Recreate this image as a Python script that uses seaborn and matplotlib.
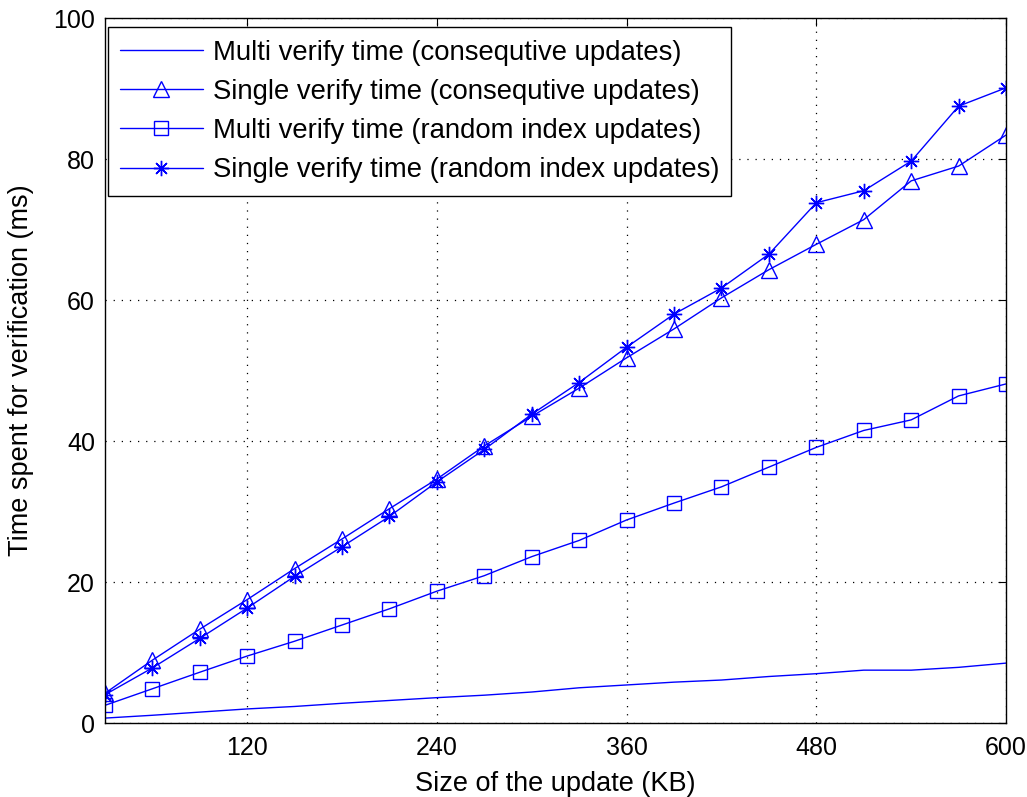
import numpy as np
import pandas as pd
import matplotlib
matplotlib.use('Agg')
import matplotlib.pyplot as plt
import seaborn as sns

# update sizes (KB)
sizes = [30, 60, 90, 120, 150, 180, 210, 240, 270, 300,
         330, 360, 390, 420, 450, 480, 510, 540, 570, 600]

# verification times (ms)
multi_consec = [0.7, 1.1, 1.55, 2.0, 2.35, 2.8, 3.2, 3.6, 3.95, 4.4,
                5.0, 5.4, 5.8, 6.1, 6.6, 7.0, 7.5, 7.5, 7.9, 8.5]
single_consec = [4.2, 8.9, 13.3, 17.5, 21.9, 26.1, 30.4, 34.6, 39.3, 43.5,
                 47.5, 51.8, 55.9, 60.3, 64.3, 67.9, 71.4, 76.9, 79.0, 83.4]
multi_random = [2.5, 4.85, 7.2, 9.5, 11.6, 13.9, 16.2, 18.7, 20.9, 23.6,
                25.9, 28.8, 31.2, 33.5, 36.3, 39.1, 41.5, 43.0, 46.4, 48.1]
single_random = [4.0, 7.8, 12.0, 16.3, 20.8, 25.0, 29.3, 34.2, 38.8, 43.8,
                 48.3, 53.3, 58.0, 61.7, 66.5, 73.8, 75.5, 79.7, 87.5, 90.1]

labels = ['Multi verify time (consequtive updates)',
          'Single verify time (consequtive updates)',
          'Multi verify time (random index updates)',
          'Single verify time (random index updates)']

sns.set_style('white')
plt.rcParams['font.family'] = ['Liberation Sans', 'DejaVu Sans']
plt.rcParams['text.color'] = 'black'
plt.rcParams['axes.labelcolor'] = 'black'

fig = plt.figure(figsize=(10.27, 7.97), dpi=100)
ax = fig.add_axes([0.102, 0.0928, 0.8776, 0.8846])

blue = (0, 0, 1)
series = [(multi_consec, None, 0), (single_consec, '^', 12),
          (multi_random, 's', 10), (single_random, (8, 2, 0), 11)]
for (vals, mk, ms), lab in zip(series, labels):
    df = pd.DataFrame({'size': sizes, 'time': vals})
    kw = {}
    if mk is not None:
        kw = dict(marker=mk, markersize=ms, markerfacecolor='none',
                  markeredgecolor=blue, markeredgewidth=1.0)
    sns.lineplot(data=df, x='size', y='time', ax=ax, color=blue, lw=1.0,
                 label=lab, **kw)

ax.set_xlim(30, 600)
ax.set_ylim(0, 100)
ax.set_xticks([120, 240, 360, 480, 600])
ax.set_yticks([0, 20, 40, 60, 80, 100])
ax.grid(True, color='black', linestyle=(0, (1, 5.5)), lw=0.9)
ax.tick_params(direction='in', top=True, right=True, length=6, labelsize=18,
               colors='black')
ax.tick_params(axis='x', pad=9)
ax.tick_params(axis='y', pad=7)
for sp in ax.spines.values():
    sp.set_color('black')
    sp.set_linewidth(1.0)
ax.set_xlabel('Size of the update (KB)', fontsize=19.5, color='black')
ax.set_ylabel('Time spent for verification (ms)', fontsize=19.5, color='black')
ax.xaxis.set_label_coords(0.5, -0.068)
ax.yaxis.set_label_coords(-0.078, 0.5)

leg = ax.legend(loc='upper left', bbox_to_anchor=(0.0033, 0.987),
                borderaxespad=0, fontsize=19.8, frameon=True, fancybox=False,
                edgecolor='black', framealpha=1, handlelength=3.0,
                labelspacing=0.48, handletextpad=0.36, borderpad=0.45)
leg.get_frame().set_linewidth(1.0)
for t in leg.get_texts():
    t.set_color('black')

fig.savefig('out.png', dpi=100)
